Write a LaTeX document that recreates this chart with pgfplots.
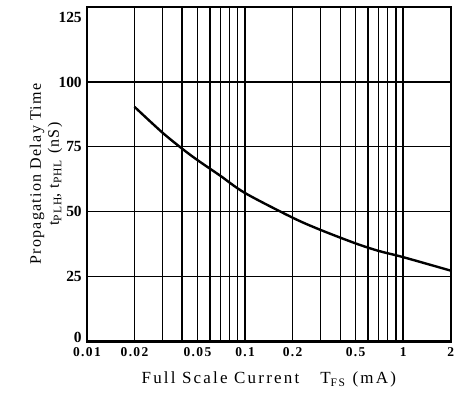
\documentclass[border=0pt]{standalone}
\usepackage{fontspec}
\setmainfont{Liberation Serif}
\usepackage{pgfplots}
\pgfplotsset{compat=1.18}
\newcommand{\sub}[1]{\raisebox{-2.5pt}{\fontsize{11.5}{12}\selectfont #1}}
\begin{document}
\begin{tikzpicture}
\begin{axis}[
  xmode=log, scale only axis, width=364pt, height=335pt,
  xmin=0.01, xmax=2, ymin=0, ymax=129,
  axis line style={line width=2.2pt},
  xtick={0.01,0.02,0.05,0.1,0.2,0.5,1,2},
  xticklabels={0.01,0.02,0.05,0.1,0.2,0.5,1,2},
  minor xtick={0.02,0.03,0.04,0.05,0.06,0.07,0.08,0.09,0.1,0.2,0.3,0.4,0.5,0.6,0.7,0.8,0.9,1,2},
  xminorgrids, xmajorgrids=false,
  ytick={0,25,50,75,100}, ymajorgrids,
  yticklabels={\raisebox{9pt}{0},25,50,75,100},
  extra y ticks={125}, extra y tick labels={125}, extra y tick style={grid=none},
  grid style={black, line width=1.3pt},
  minor grid style={black, line width=1.3pt},
  major tick length=0pt, minor tick length=0pt,
  /pgf/number format/assume math mode=true,
  yticklabel style={font=\fontsize{15.5}{17}\selectfont\bfseries, anchor=east, inner sep=0pt, xshift=-5pt},
  xticklabel style={font=\fontsize{13.5}{15}\selectfont\bfseries\addfontfeatures{LetterSpace=10}, anchor=base, inner sep=0pt, yshift=-15pt},
  xlabel={\addfontfeatures{LetterSpace=13}Full Scale Current\hspace{21pt}T\sub{FS}\hspace{0.45em}(mA)},
  xlabel style={font=\fontsize{17}{18}\selectfont, at={(axis description cs:0.5,-0.1143)}, anchor=center},
  ylabel={\addfontfeatures{LetterSpace=8}Propagation Delay Time\\ \addfontfeatures{LetterSpace=8}t\sub{PLH}, t\sub{PHL}\hspace{0.4em}(nS)},
  ylabel style={font=\fontsize{16}{18}\selectfont, align=center, at={(axis description cs:-0.1126,0.5)}, anchor=center},
]
\addplot[black, line width=2.4pt, smooth] coordinates {
 (0.02,90.4) (0.03,80.5) (0.04,74.3) (0.05,69.9) (0.07,63.8) (0.1,57.2)
 (0.2,47.7) (0.3,43) (0.5,37.8) (0.7,34.9) (1,32.5) (2,27.3)
};
\end{axis}
\pgfresetboundingbox
\useasboundingbox ([shift={(-87pt,-52.3pt)}]current axis.south west) rectangle ([shift={(6.3pt,6.7pt)}]current axis.north east);
\end{tikzpicture}
\end{document}
